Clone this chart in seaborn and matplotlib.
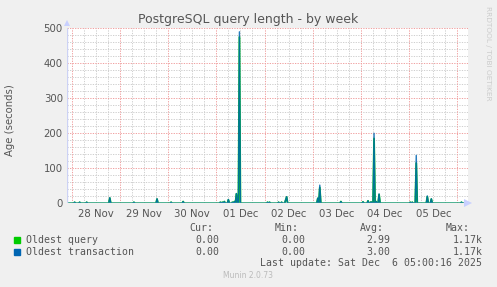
import numpy as np
import pandas as pd
import matplotlib
matplotlib.use("Agg")
import matplotlib.pyplot as plt
import seaborn as sns

# ---- data (hours since 28 Nov 00:00, 30-min samples) ----
spike_hours = [1.5, 4.0, 7.5, 19.0, 31.0, 42.5, 49.5, 55.5, 74.0, 75.0, 76.0, 78.0,
               80.0, 81.0, 82.0, 83.5, 97.5, 98.5, 103.0, 104.5, 106.5, 107.0,
               122.5, 123.5, 134.0, 145.0, 147.5, 149.0, 150.5, 151.5, 153.0,
               168.5, 169.5, 171.5, 177.0, 179.0, 194.0]
query_values = [3, 3, 3, 15, 3, 12, 3, 5, 3, 3, 5, 10,
                3, 5, 27, 475, 3, 3, 3, 3, 9, 18,
                14, 45, 5, 4, 7, 4, 185, 5, 25,
                3, 3, 115, 19, 12, 3]
transaction_values = [3, 3, 3, 16, 3, 13, 3, 5, 3, 3, 5, 11,
                      3, 5, 28, 490, 3, 3, 3, 3, 10, 19,
                      15, 52, 5, 4, 7, 4, 200, 5, 27,
                      3, 3, 137, 21, 13, 3]
day_labels = ["28 Nov", "29 Nov", "30 Nov", "01 Dec", "02 Dec", "03 Dec", "04 Dec", "05 Dec"]
y_ticks = [0, 100, 200, 300, 400, 500]
series_names = ["Oldest query", "Oldest transaction"]
series_colors = ["#00cc00", "#0066b3"]
stat_headers = ["Cur:", "Min:", "Avg:", "Max:"]
stats = [["0.00", "0.00", "2.99", "1.17k"],
         ["0.00", "0.00", "3.00", "1.17k"]]

hours = np.arange(-2.0, 197.01, 0.5)
q = np.zeros_like(hours)
t = np.zeros_like(hours)
for h, qv, tv in zip(spike_hours, query_values, transaction_values):
    i = int(round((h + 2.0) / 0.5))
    q[i] = qv
    t[i] = tv
df = pd.DataFrame({"hours": hours, "query": q, "transaction": t})

# ---- figure ----
sns.set_style("white")
W, H = 497, 287
fig = plt.figure(figsize=(W / 100, H / 100), dpi=100, facecolor="#f0f0f0")
L, R, T, B = 67, 467.5, 28.3, 203.3
ax = fig.add_axes([L / W, 1 - B / H, (R - L) / W, (B - T) / H])
ax.set_facecolor("white")

sns.lineplot(data=df, x="hours", y="query", ax=ax, color=series_colors[0],
             linewidth=1.3, zorder=3)
sns.lineplot(data=df, x="hours", y="transaction", ax=ax, color=series_colors[1],
             linewidth=1.0, alpha=0.85, zorder=4)

ax.set_xlim(-2.3, 197.0)
ax.set_ylim(0, 500)

# grid
dot = (0, (1.3, 1.3))
for d in range(0, 9):
    ax.axvline(d * 24, color="#f0a0a0", lw=0.7, ls=dot, zorder=1)
for hh in np.arange(0, 198, 6):
    if hh % 24:
        ax.axvline(hh, color="#cfcfcf", lw=0.7, ls=dot, zorder=0.5)
for yv in range(20, 501, 20):
    if yv % 100:
        ax.axhline(yv, color="#cfcfcf", lw=0.7, ls=dot, zorder=0.5)
    else:
        ax.axhline(yv, color="#f0a0a0", lw=0.7, ls=dot, zorder=1)

for s in ax.spines.values():
    s.set_visible(False)
ax.axhline(0, color="#9aa8ee", lw=1.0, zorder=5)
ax.axvline(-2.3, color="#ccd2f5", lw=1.0, zorder=5)
ax.plot([1.0], [0], marker=">", color="#c8d0ff", markersize=6, transform=ax.transAxes,
        clip_on=False, zorder=6, markeredgewidth=0)
ax.plot([0], [1.03], marker="^", color="#c8d0ff", markersize=5, transform=ax.transAxes,
        clip_on=False, zorder=6, markeredgewidth=0)

ax.set_xticks([12 + 24 * i for i in range(len(day_labels))])
ax.set_xticklabels(day_labels)
ax.set_yticks(y_ticks)
ax.set_yticklabels([str(v) for v in y_ticks])
ax.tick_params(axis="both", length=0, labelsize=7.3, labelcolor="#555555", pad=3)
ax.tick_params(axis="x", pad=4)
ax.set_xlabel("")
ax.set_ylabel("Age (seconds)", fontsize=7.3, color="#555555")
ax.yaxis.set_label_coords(-(67 - 15.5) / (R - L), (B - 120) / (B - T))

def fx(x):
    return x / W

def fy(y):
    return 1 - y / H

fig.text(fx(248), fy(19), "PostgreSQL query length - by week", ha="center", va="center",
         fontsize=9.0, color="#555555")
fig.text(fx(488), fy(53), "RRDTOOL / TOBI OETIKER", rotation=270, ha="center", va="center",
         fontsize=5.3, color="#cccccc")

mono = "DejaVu Sans Mono"
fs = 7.1
hdr_x = [213, 299, 384.3, 470]
val_x = [219.3, 305.7, 390.7, 482.3]
for hx, txt in zip(hdr_x, stat_headers):
    fig.text(fx(hx), fy(227.7), txt, ha="right", va="center", family=mono, fontsize=fs, color="#555555")
rows_y = [240, 251.7]
for ry, name, col, vals in zip(rows_y, series_names, series_colors, stats):
    fig.patches.append(matplotlib.patches.Rectangle((fx(14), fy(ry + 3)), 6 / W, 6 / H,
                                                    transform=fig.transFigure, color=col))
    fig.text(fx(26), fy(ry), name, ha="left", va="center", family=mono, fontsize=fs, color="#555555")
    for vx, v in zip(val_x, vals):
        fig.text(fx(vx), fy(ry), v, ha="right", va="center", family=mono, fontsize=fs, color="#555555")
fig.text(fx(482.3), fy(263.3), "Last update: Sat Dec  6 05:00:16 2025", ha="right", va="center",
         family=mono, fontsize=fs, color="#555555")
fig.text(fx(248), fy(276), "Munin 2.0.73", ha="center", va="center", fontsize=5.5, color="#bbbbbb")

fig.savefig("out.png", dpi=100, facecolor=fig.get_facecolor())
